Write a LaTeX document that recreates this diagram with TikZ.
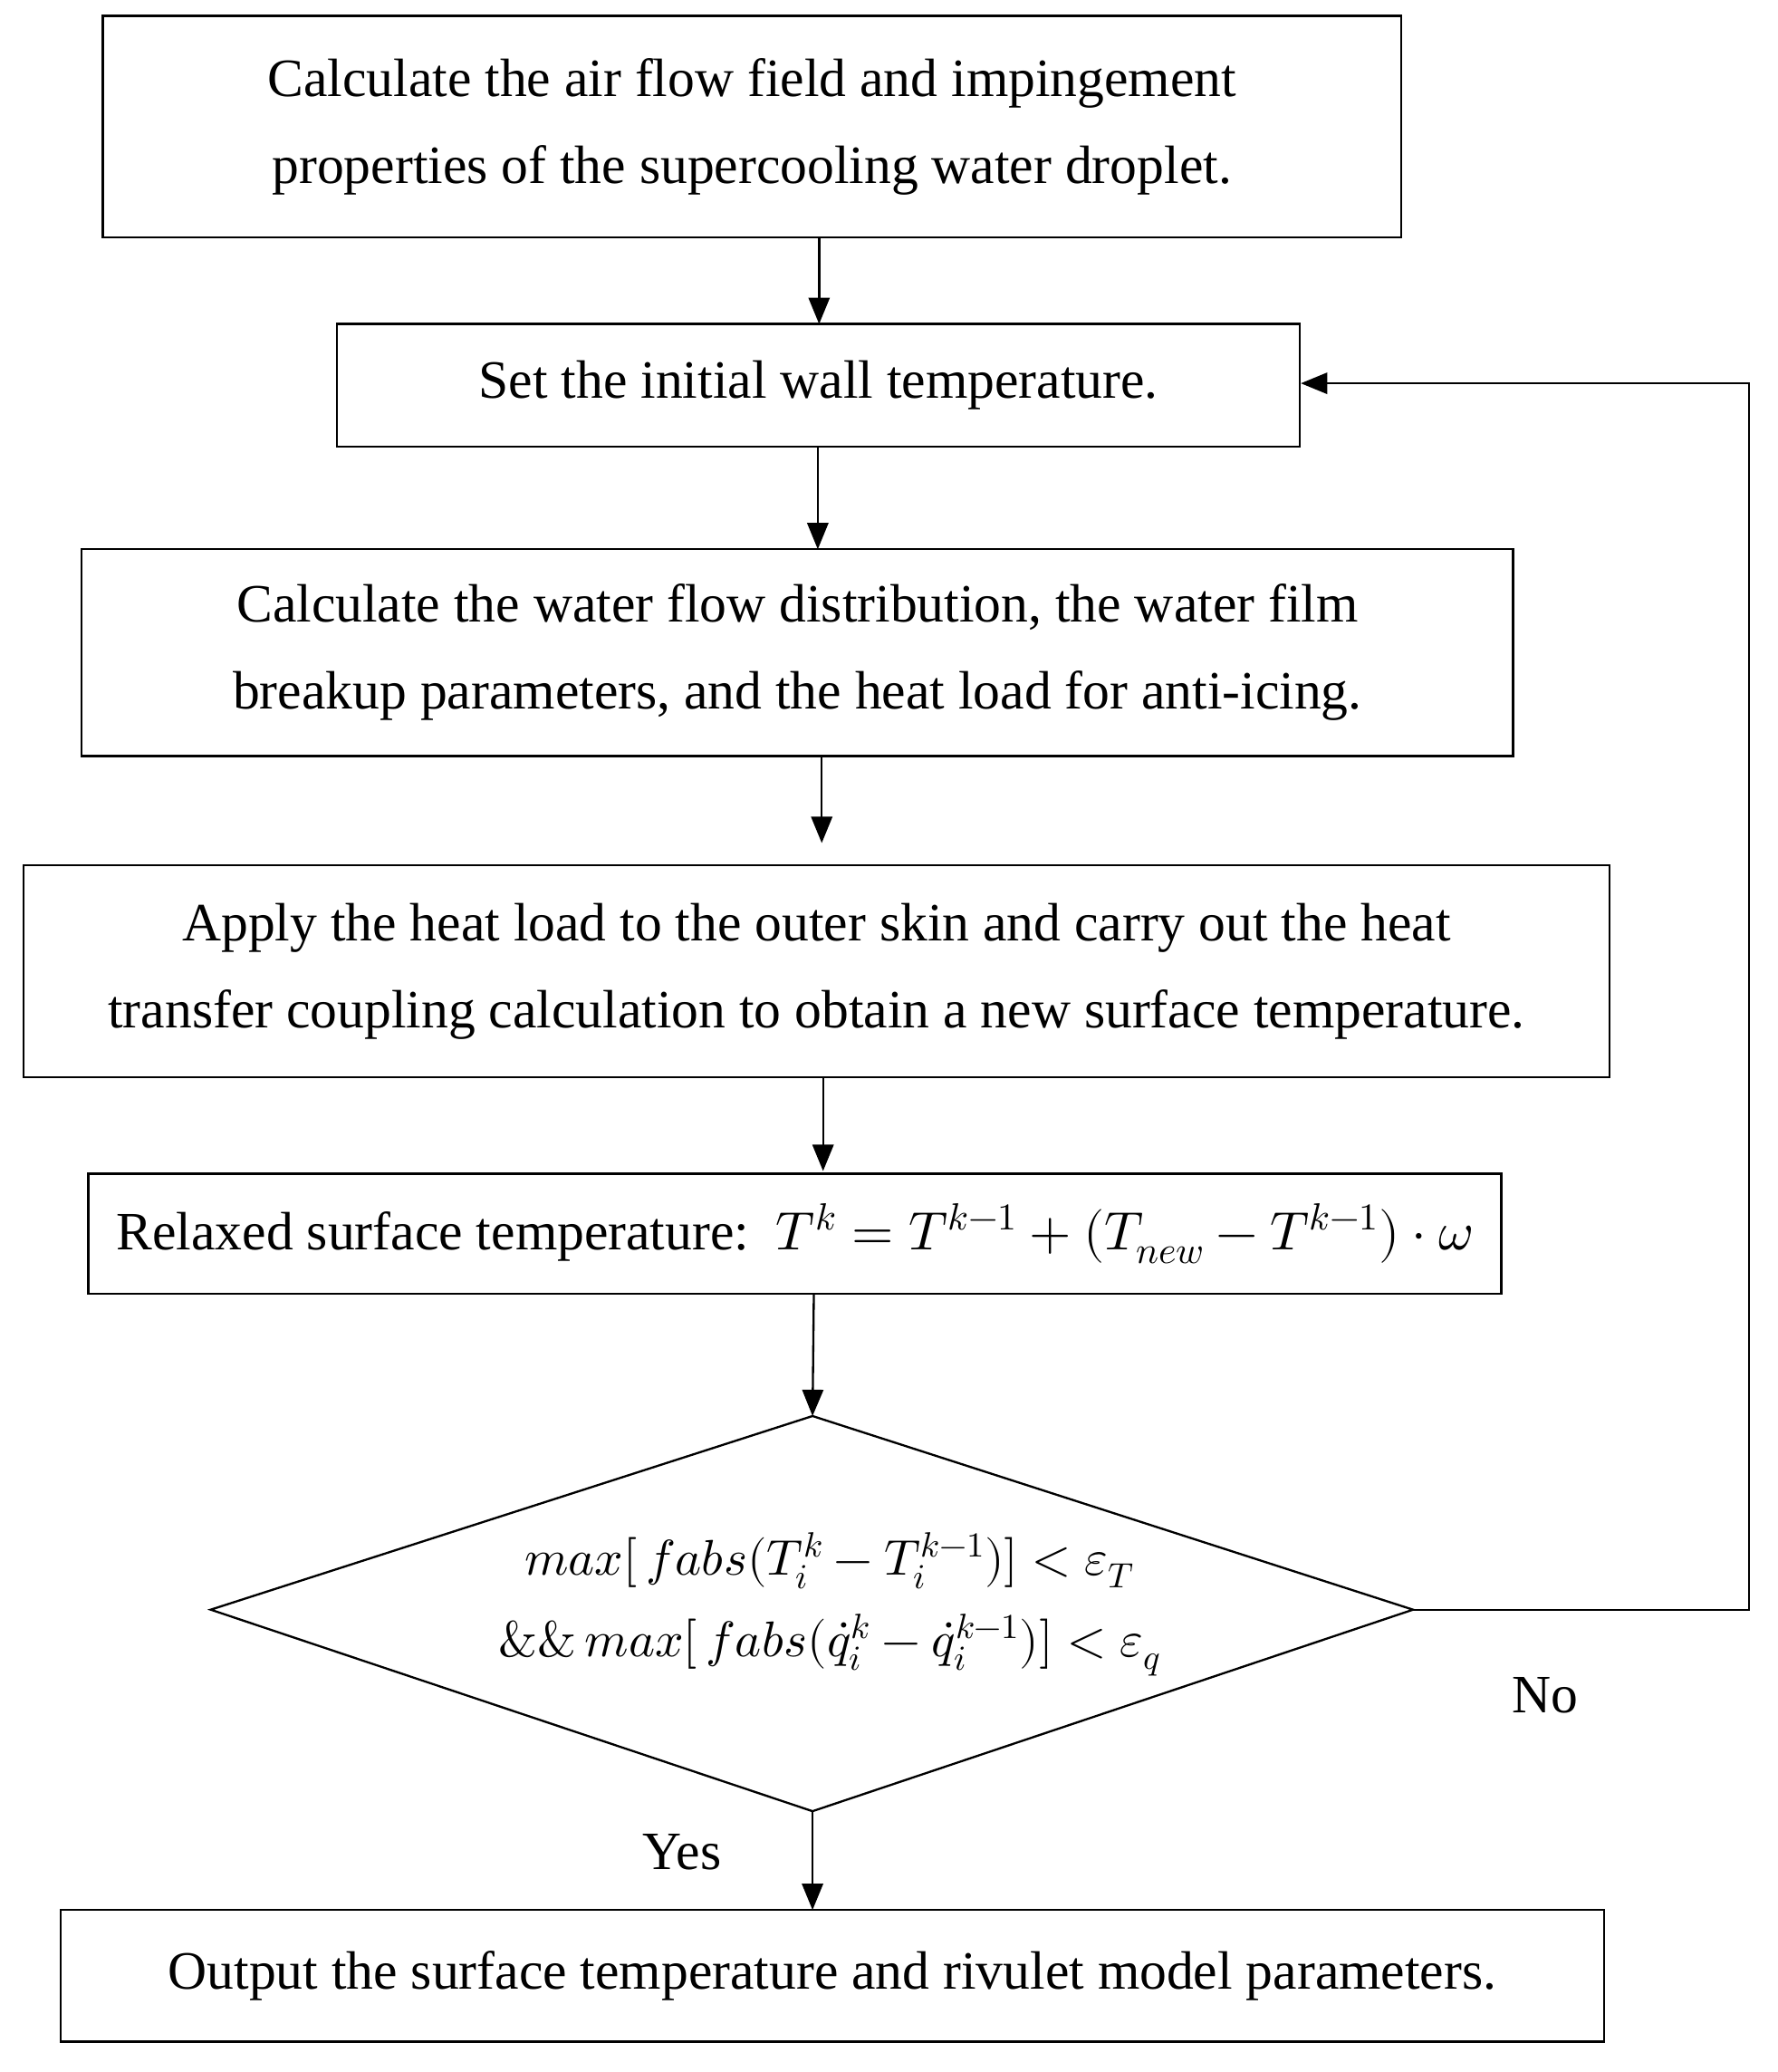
\documentclass[tikz,border=0pt]{standalone}
\usepackage{fontspec}
\usepackage{unicode-math}
\setmainfont{Liberation Serif}
\setmathfont{Latin Modern Math}
\usetikzlibrary{arrows.meta}
\begin{document}
\begin{tikzpicture}[x=1pt,y=-1pt,
  box/.style={draw,line width=1.6pt,inner sep=0pt,font=\fontsize{41}{66}\selectfont,align=center},
  arr/.style={line width=1.6pt,-{Triangle[length=20pt,width=16pt]}}]
\useasboundingbox (0,0) rectangle (1350,1573);
\fontsize{41}{66}\selectfont
\node[box,minimum width=986pt,minimum height=168pt] (b1) at (571,96) {Calculate the air flow field and impingement\\properties of the supercooling water droplet.};
\node[box,minimum width=731pt,minimum height=93pt] (b2) at (621.5,292.5) {Set the initial wall temperature.};
\node[box,minimum width=1087pt,minimum height=157pt] (b3) at (605.5,495.5) {Calculate the water flow distribution, the water film\\breakup parameters, and the heat load for anti-icing.};
\node[box,minimum width=1204pt,minimum height=161pt] (b4) at (620,737.5) {Apply the heat load to the outer skin and carry out the heat\\transfer coupling calculation to obtain a new surface temperature.};
\node[box,minimum width=1073pt,minimum height=91pt] (b5) at (603.5,936.5) {Relaxed surface temperature:\ \ $T^k=T^{k-1}+(T_{new}-T^{k-1})\cdot\omega$};
\coordinate (dl) at (160,1222); \coordinate (dt) at (617,1075);
\coordinate (dr) at (1073,1222); \coordinate (db) at (617,1375);
\draw[line width=1.6pt] (dl)--(dt)--(dr)--(db)--cycle;
\node[font=\fontsize{38}{62}\selectfont,align=center] (dtext) at (630,1218) {$max[\,fabs(T_i^k-T_i^{k-1})]<\varepsilon_T$\\$\&\&\,max[\,fabs(\dot q_i^k-\dot q_i^{k-1})]<\varepsilon_q$};
\node[box,minimum width=1172pt,minimum height=100pt] (b6) at (632,1500) {Output the surface temperature and rivulet model parameters.};
\node (no) at (1173,1287) {No};
\node (yes) at (518,1406) {Yes};
\draw[arr] (622,180) -- (622,246);
\draw[arr] (621,339) -- (621,417);
\draw[arr] (624,574) -- (624,640);
\draw[arr] (625,818) -- (625,889);
\draw[arr] (618,982) -- (dt);
\draw[arr] (db) -- (617,1450);
\coordinate (c1) at (1328,1222); \coordinate (c2) at (1328,291);
\draw[arr] (dr) -- (c1) -- (c2) -- (b2.east |- c2);
\end{tikzpicture}
\end{document}
